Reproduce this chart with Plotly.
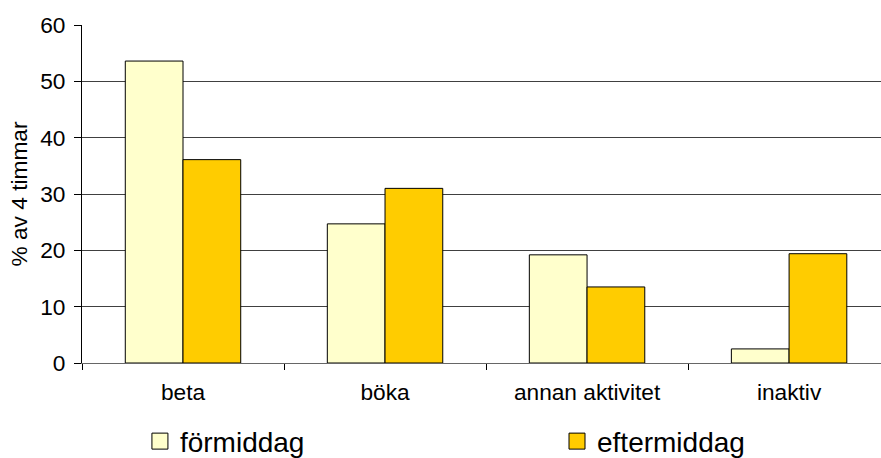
import plotly.graph_objects as go

categories = ["beta", "böka", "annan aktivitet", "inaktiv"]
formiddag = [53.6, 24.7, 19.2, 2.5]
eftermiddag = [36.1, 31.0, 13.5, 19.4]
series_names = ["förmiddag", "eftermiddag"]
colors = ["#FFFFCC", "#FFCC00"]
y_ticks = [0, 10, 20, 30, 40, 50, 60]

FONT = "Liberation Sans, Arial, sans-serif"
AX = 22.7

fig = go.Figure()
legend_ids = ["legend", "legend2"]
for name, vals, col, lg in zip(series_names, [formiddag, eftermiddag], colors, legend_ids):
    fig.add_trace(go.Bar(
        x=categories, y=vals, name=name, showlegend=False,
        marker=dict(color=col, line=dict(color="#000000", width=1)),
    ))
    fig.add_trace(go.Scatter(
        x=[None], y=[None], mode="markers", name=name, showlegend=True,
        legend=lg,
        marker=dict(symbol="square", size=16, color=col,
                    line=dict(color="#000000", width=1)),
    ))

legend_common = dict(
    orientation="h", xanchor="left", y=-0.232, yanchor="middle",
    font=dict(size=28, family=FONT), itemwidth=30,
    bgcolor="rgba(0,0,0,0)", borderwidth=0,
)

fig.update_layout(
    width=881, height=458,
    margin=dict(l=82, r=0, t=25, b=95, autoexpand=False),
    paper_bgcolor="white", plot_bgcolor="white",
    barmode="group", bargap=0.4286, bargroupgap=0,
    font=dict(family=FONT, color="#000000", size=AX),
    showlegend=True,
    legend=dict(x=0.0725, **legend_common),
    legend2=dict(x=0.5945, **legend_common),
    xaxis=dict(
        type="category", range=[-0.5, 3.455],
        showgrid=False, showline=True, linecolor="#666666", linewidth=1,
        ticks="outside", tickson="boundaries", ticklen=6, tickcolor="#000000",
        tickfont=dict(size=AX, family=FONT), ticklabelstandoff=9,
        zeroline=False, fixedrange=True, automargin=False,
    ),
    yaxis=dict(
        range=[0, 60], tickvals=y_ticks,
        showgrid=True, gridcolor="#404040", gridwidth=1,
        showline=True, linecolor="#000000", linewidth=1,
        ticks="outside", ticklen=7, tickcolor="#000000",
        tickfont=dict(size=AX, family=FONT), ticklabelstandoff=4,
        title=dict(text="% av 4 timmar", font=dict(size=AX, family=FONT), standoff=6),
        zeroline=False, automargin=False, fixedrange=True,
    ),
)

fig.write_html("out.html")
